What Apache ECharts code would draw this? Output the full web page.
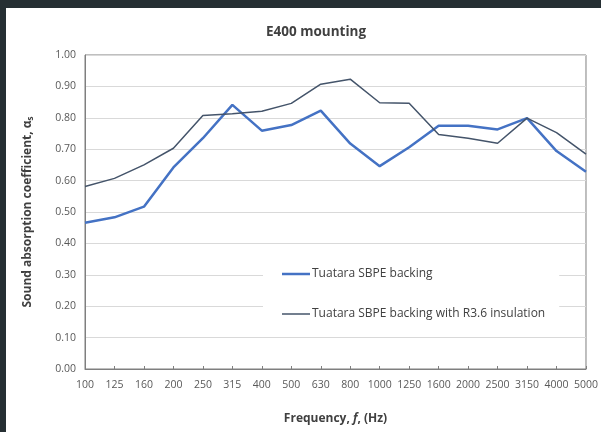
<!DOCTYPE html>
<html>
<head>
<meta charset="utf-8">
<script src="https://cdn.jsdelivr.net/npm/echarts@6/dist/echarts.min.js"></script>
<style>
	html, body { margin: 0; padding: 0; width: 601px; height: 432px; background: #262f33; overflow: hidden; }
	#chart { position: absolute; left: 6px; top: 8px; width: 595px; height: 424px; background: #fff; }
</style>
</head>
<body>
<div id="chart"></div>
<script>
// 1/3 octave bands
var freqs = ['100', '125', '160', '200', '250', '315', '400', '500', '630', '800',
	'1000', '1250', '1600', '2000', '2500', '3150', '4000', '5000'];
var sbpe = [0.466, 0.483, 0.517, 0.642, 0.735, 0.841, 0.759, 0.777, 0.823, 0.718,
	0.646, 0.706, 0.775, 0.775, 0.763, 0.799, 0.694, 0.628];
var sbpeR36 = [0.581, 0.607, 0.650, 0.703, 0.807, 0.813, 0.821, 0.846, 0.907, 0.923,
	0.848, 0.846, 0.747, 0.735, 0.719, 0.799, 0.753, 0.684];
var names = ['Tuatara SBPE backing', 'Tuatara SBPE backing with R3.6 insulation'];

var font = 'Open Sans';
var myChart = echarts.init(document.getElementById('chart'));

var option = {
	animation: false,
	textStyle: { fontFamily: font },
	title: {
		text: 'E400 mounting',
		left: 255,
		top: 12,
		textStyle: { fontFamily: font, fontSize: 13.5, fontWeight: 'bold', color: '#404040' }
	},
	legend: {
		orient: 'vertical',
		left: 257,
		top: 246,
		padding: [14, 14, 14, 19],
		backgroundColor: '#fff',
		itemWidth: 28,
		itemHeight: 14,
		itemGap: 28,
		textStyle: { fontFamily: font, fontSize: 12, color: '#404040', padding: [0, 0, 0, -3] },
		data: [
			{ name: names[0], icon: 'path://M0,0H28V2.5H0Z' }, // 线条图例
			{ name: names[1], icon: 'path://M0,0H28V1.5H0Z' }
		]
	},
	grid: {
		left: 79,
		right: 12,
		top: 47,
		bottom: 63,
		show: true,
		borderColor: '#7f7f7f',
		borderWidth: 1
	},
	xAxis: {
		type: 'category',
		data: freqs,
		boundaryGap: false,
		name: 'Frequency, {i|f}, (Hz)',
		nameLocation: 'middle',
		nameGap: 44,
		nameTextStyle: {
			fontFamily: font, fontSize: 12, fontWeight: 'bold', color: '#404040',
			rich: { i: { fontFamily: font, fontSize: 12, fontWeight: 'bold', fontStyle: 'italic', color: '#404040' } }
		},
		axisLine: { lineStyle: { color: '#7f7f7f' } },
		axisTick: { show: true, inside: true, length: 3, interval: 0, lineStyle: { color: '#7f7f7f' } },
		axisLabel: { interval: 0, hideOverlap: false, margin: 11, fontSize: 10.5, color: '#595959' },
		splitLine: { show: false }
	},
	yAxis: {
		type: 'value',
		min: 0,
		max: 1,
		interval: 0.1,
		name: 'Sound absorption coefficient, α{s|s}',
		nameLocation: 'middle',
		nameGap: 50,
		nameTextStyle: {
			fontFamily: font, fontSize: 12, fontWeight: 'bold', color: '#404040',
			rich: { s: { fontFamily: font, fontSize: 8, fontWeight: 'bold', color: '#404040', verticalAlign: 'bottom', padding: [6, 0, 0, 0] } }
		},
		axisLine: { show: true, lineStyle: { color: '#7f7f7f' } },
		axisTick: { show: false },
		axisLabel: {
			margin: 9, fontSize: 10.5, color: '#595959',
			formatter: function(v) { return v.toFixed(2); }
		},
		splitLine: { lineStyle: { color: '#d9d9d9', width: 1 } }
	},
	series: [{
			name: names[0],
			type: 'line',
			data: sbpe,
			symbol: 'none',
			lineStyle: { color: '#4472c4', width: 2.5 },
			itemStyle: { color: '#4472c4' }
		},
		{
			name: names[1],
			type: 'line',
			data: sbpeR36,
			symbol: 'none',
			lineStyle: { color: '#44546a', width: 1.5 },
			itemStyle: { color: '#44546a' }
		}
	]
};

myChart.setOption(option);
</script>
</body>
</html>
